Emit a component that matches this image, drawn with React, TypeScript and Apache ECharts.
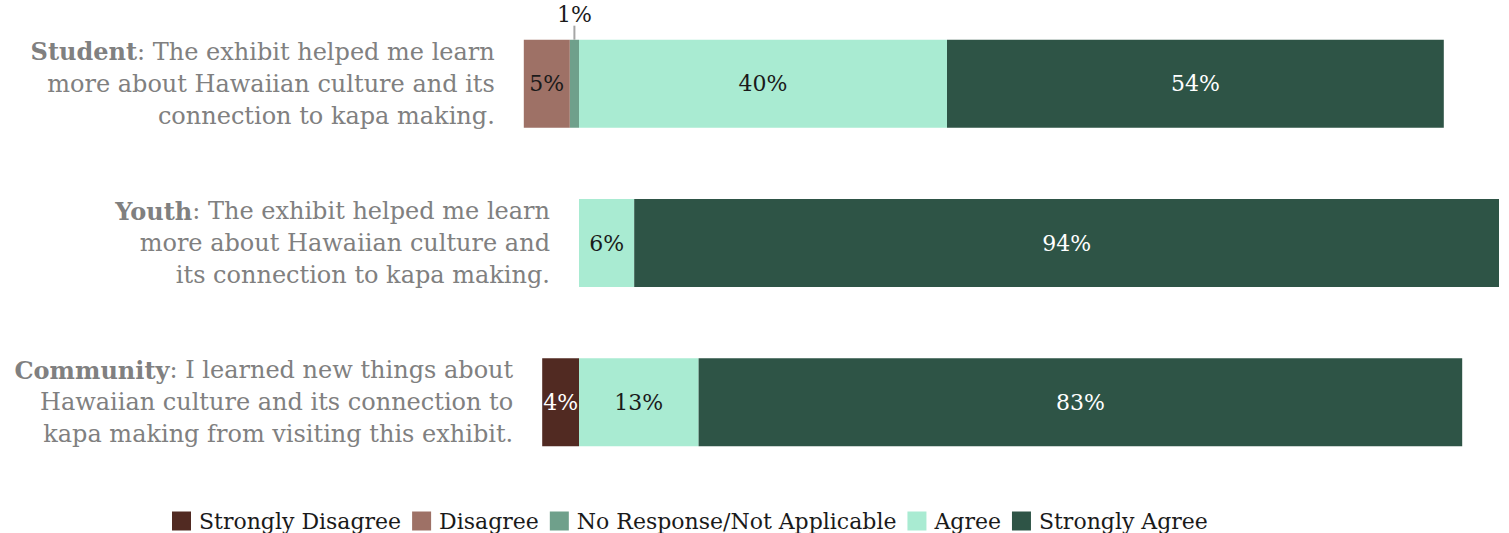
import React, { useEffect, useRef } from "react";
import * as echarts from "echarts";

const categories = ["Student", "Youth", "Community"];
const statements = [
  "{b|Student}: The exhibit helped me learn\nmore about Hawaiian culture and its\nconnection to kapa making.",
  "{b|Youth}: The exhibit helped me learn\nmore about Hawaiian culture and\nits connection to kapa making.",
  "{b|Community}: I learned new things about\nHawaiian culture and its connection to\nkapa making from visiting this exhibit.",
];
const stronglyDisagree = [0, 0, 4];
const disagree = [5, 0, 0];
const noResponse = [1, 0, 0];
const agree = [40, 6, 13];
const stronglyAgree = [54, 94, 83];
const legendNames = ["Strongly Disagree", "Disagree", "No Response/Not Applicable", "Agree", "Strongly Agree"];

const FONT = "DejaVu Serif";

export default function App() {
  const ref = useRef<HTMLDivElement>(null);
  useEffect(() => {
    if (!ref.current) return;
    const chart = echarts.init(ref.current, null, { renderer: "svg" });
    const pct = (p: any) => (p.value === 0 ? "" : Math.abs(p.value) + "%");
    const mkLabel = (color: string) => ({
      show: true,
      position: "inside" as const,
      formatter: pct,
      color,
      fontFamily: FONT,
      fontSize: 22,
    });
    chart.setOption({
      animation: false,
      grid: { left: 27, right: 10, top: 4, height: 478 },
      xAxis: { type: "value", min: -60, max: 100, show: false },
      yAxis: { type: "category", data: categories, inverse: true, show: false },
      legend: {
        data: legendNames,
        left: 167,
        top: 505,
        itemWidth: 19,
        itemHeight: 19,
        itemGap: 11,
        icon: "rect",
        textStyle: { fontFamily: FONT, fontSize: 22, color: "#1a1a1a", padding: [0, 0, 0, 3] },
      },
      series: [
        {
          name: "No Response/Not Applicable",
          type: "bar",
          stack: "s",
          barWidth: 88,
          data: noResponse.map((v) => ({
            value: -v,
            label: { show: v !== 0 },
            labelLine: { show: v !== 0 },
          })),
          itemStyle: { color: "#6FA08B" },
          label: { ...mkLabel("#1a1a1a"), position: "top", distance: 4 },
          labelLayout: { dy: -10 },
          labelLine: { show: true, lineStyle: { color: "#a6a6a6", width: 2 } },
        },
        {
          name: "Disagree",
          type: "bar",
          stack: "s",
          barWidth: 88,
          data: disagree.map((v) => -v),
          itemStyle: { color: "#9E7166" },
          label: mkLabel("#1a1a1a"),
        },
        {
          name: "Strongly Disagree",
          type: "bar",
          stack: "s",
          barWidth: 88,
          data: stronglyDisagree.map((v) => -v),
          itemStyle: { color: "#512A22" },
          label: mkLabel("#ffffff"),
        },
        {
          name: "statement",
          type: "bar",
          stack: "s",
          barWidth: 88,
          silent: true,
          data: statements.map(() => -70),
          itemStyle: { color: "rgba(0,0,0,0)" },
          label: {
            show: true,
            position: "insideRight",
            distance: 29,
            align: "right",
            formatter: (p: any) => statements[p.dataIndex],
            color: "#808080",
            fontFamily: FONT,
            fontSize: 24,
            lineHeight: 32,
            rich: {
              b: { fontWeight: "bold", color: "#808080", fontFamily: FONT, fontSize: 24, lineHeight: 32 },
            },
          },
        },
        {
          name: "Agree",
          type: "bar",
          stack: "s",
          barWidth: 88,
          data: agree,
          itemStyle: { color: "#A9EBD2" },
          label: mkLabel("#1a1a1a"),
        },
        {
          name: "Strongly Agree",
          type: "bar",
          stack: "s",
          barWidth: 88,
          data: stronglyAgree,
          itemStyle: { color: "#2E5446" },
          label: mkLabel("#ffffff"),
        },
      ],
    });
    return () => chart.dispose();
  }, []);
  return <div ref={ref} style={{ position: "absolute", left: 0, top: 0, width: 1509, height: 533 }} />;
}
